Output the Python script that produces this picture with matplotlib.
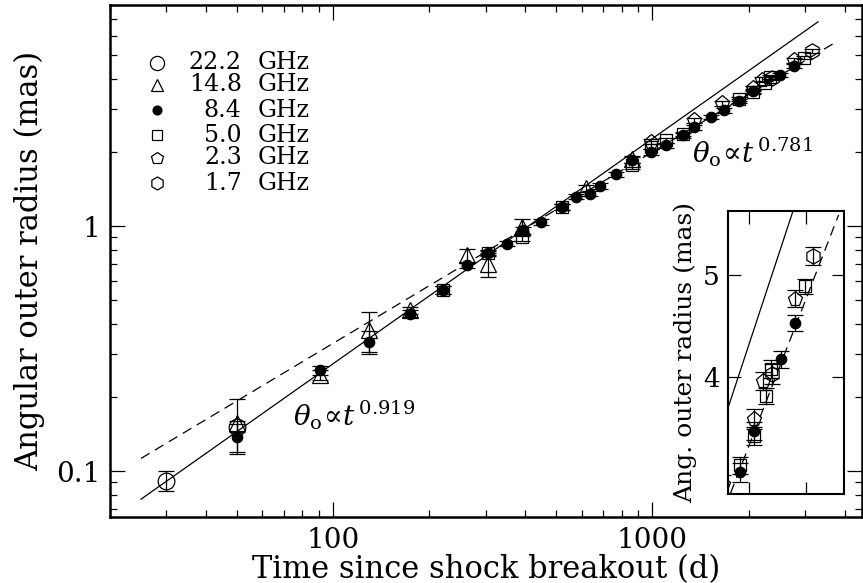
import matplotlib
matplotlib.use('Agg')
import matplotlib.pyplot as plt
import numpy as np
from matplotlib.ticker import FixedLocator, NullLocator, FuncFormatter

plt.rcParams['font.family'] = 'DejaVu Serif'
plt.rcParams['mathtext.fontset'] = 'dejavuserif'

# data: time (d), angular outer radius (mas), error
c22_t = [30, 50]
c22_th = [0.0913, 0.152]
c22_err = [0.0085, 0.008]

c14_t = [50, 91, 129, 174, 263, 305, 389, 620, 860]
c14_th = [0.157, 0.248, 0.376, 0.454, 0.761, 0.70, 0.99, 1.43, 1.88]
c14_err = [0.04, 0.012, 0.07, 0.015, 0.05, 0.08, 0.08, 0.05, 0.06]

c8_t = [50, 91, 129, 174, 221, 263, 305, 351, 393, 449, 519, 578, 636, 683, 769,
        864, 991, 1104, 1245, 1346, 1525, 1679, 1870, 2070, 2506, 2780]
c8_th = [0.138, 0.258, 0.337, 0.44, 0.548, 0.693, 0.774, 0.85, 0.963, 1.04, 1.20, 1.32,
         1.36, 1.46, 1.63, 1.86, 2.01, 2.14, 2.35, 2.54, 2.79, 2.97, 3.25, 3.56, 4.16, 4.50]
c8_err = [0.018, 0.01, 0.035, 0.015, 0.02, 0.02, 0.02, 0.02, 0.03, 0.03, 0.03, 0.03,
          0.03, 0.04, 0.04, 0.05, 0.05, 0.05, 0.05, 0.06, 0.06, 0.06, 0.07, 0.07, 0.08, 0.08]

c5_t = [221, 305, 389, 519, 864, 991, 1104, 1250, 1870, 2070, 2256, 2330, 2988]
c5_th = [0.55, 0.78, 0.90, 1.20, 1.77, 2.11, 2.24, 2.38, 3.30, 3.52, 3.84, 4.07, 4.88]
c5_err = [0.02, 0.02, 0.03, 0.03, 0.05, 0.05, 0.05, 0.05, 0.06, 0.07, 0.07, 0.08, 0.08]

c23_t = [991, 1346, 1650, 2070, 2200, 2780]
c23_th = [2.21, 2.71, 3.17, 3.65, 3.97, 4.75]
c23_err = [0.05, 0.06, 0.06, 0.08, 0.08, 0.09]

c17_t = [2360, 3170]
c17_th = [4.03, 5.21]
c17_err = [0.09, 0.10]

# power-law fits: theta = norm * (t/1000)**index
fit_solid_index, fit_solid_norm, fit_solid_t = 0.919, 2.28, [25, 3300]
fit_dash_index, fit_dash_norm, fit_dash_t = 0.781, 2.01, [25, 3800]

labels = ['22.2 GHz', '14.8 GHz', '8.4 GHz', '5.0 GHz', '2.3 GHz', '1.7 GHz']
series = [
    (c22_t, c22_th, c22_err, 'o', 'none', 12),
    (c14_t, c14_th, c14_err, '^', 'none', 11),
    (c8_t, c8_th, c8_err, 'o', 'black', 7.5),
    (c5_t, c5_th, c5_err, 's', 'none', 8.5),
    (c23_t, c23_th, c23_err, 'p', 'none', 11),
    (c17_t, c17_th, c17_err, 'h', 'none', 11),
]


def draw(ax):
    for t, th, err, m, fc, ms in series:
        ax.errorbar(t, th, yerr=err, fmt=m, mfc=fc, mec='black', ms=ms, mew=0.9,
                    ecolor='black', elinewidth=0.9, capsize=5.5, capthick=0.9)
    ts = np.array(fit_solid_t)
    ax.plot(ts, fit_solid_norm * (ts / 1000) ** fit_solid_index, color='black', lw=0.9)
    td = np.array(fit_dash_t)
    ax.plot(td, fit_dash_norm * (td / 1000) ** fit_dash_index, color='black', lw=0.9,
            dashes=(8, 5))


fig = plt.figure(figsize=(8.63, 5.83), dpi=100)
ax = fig.add_axes([0.1275, 0.1132, 0.8713, 0.8782])
ax.set_xscale('log')
ax.set_yscale('log')
draw(ax)
ax.set_xlim(20, 4530)
ax.set_ylim(0.065, 8.0)

fmt = FuncFormatter(lambda v, p: '{:g}'.format(v))
ax.xaxis.set_major_formatter(fmt)
ax.yaxis.set_major_formatter(fmt)
ax.xaxis.set_minor_formatter(FuncFormatter(lambda v, p: ''))
ax.yaxis.set_minor_formatter(FuncFormatter(lambda v, p: ''))
ax.tick_params(which='both', direction='in', top=True, right=True, labelsize=20)
ax.tick_params(which='major', length=11, width=0.9, pad=7)
ax.tick_params(which='minor', length=5, width=0.9)
for s in ax.spines.values():
    s.set_linewidth(1.8)

ax.set_xlabel('Time since shock breakout (d)', fontsize=22, labelpad=0)
ax.set_ylabel('Angular outer radius (mas)', fontsize=22, labelpad=8)

ax.text(75, 0.154, r'$\theta_{\mathrm{o}}\!\propto\! t^{\,0.919}$', fontsize=20)
ax.text(1334, 1.82, r'$\theta_{\mathrm{o}}\!\propto\! t^{\,0.781}$', fontsize=20)

# legend
leg_y = [0.8873, 0.8438, 0.7949, 0.7461, 0.7012, 0.6523]
for (t, th, err, m, fc, ms), lab, y in zip(series, labels, leg_y):
    num, unit = lab.split()
    ax.plot([0.0625], [y], marker=m, mfc=fc, mec='black', ms=ms * 0.85, mew=0.9,
            transform=ax.transAxes, ls='none')
    ax.text(0.1751, y, num, transform=ax.transAxes, ha='right', va='center', fontsize=17)
    ax.text(0.1968, y, unit, transform=ax.transAxes, ha='left', va='center', fontsize=17)

# inset
axi = fig.add_axes([0.8436, 0.1527, 0.1344, 0.4854])
axi.set_xscale('log')
axi.set_yscale('log')
draw(axi)
axi.set_xlim(1714, 3950)
axi.set_ylim(3.10, 5.75)
axi.xaxis.set_major_locator(FixedLocator([2000, 3000]))
axi.xaxis.set_minor_locator(NullLocator())
axi.yaxis.set_major_locator(FixedLocator([4, 5]))
axi.yaxis.set_minor_locator(NullLocator())
axi.yaxis.set_major_formatter(fmt)
axi.xaxis.set_major_formatter(FuncFormatter(lambda v, p: ''))
axi.tick_params(which='both', direction='in', top=True, right=True, labelsize=19,
                length=9, width=0.9, pad=6)
for s in axi.spines.values():
    s.set_linewidth(1.5)
axi.set_ylabel('Ang. outer radius (mas)', fontsize=18, labelpad=4)

fig.savefig('out.png', dpi=100)
